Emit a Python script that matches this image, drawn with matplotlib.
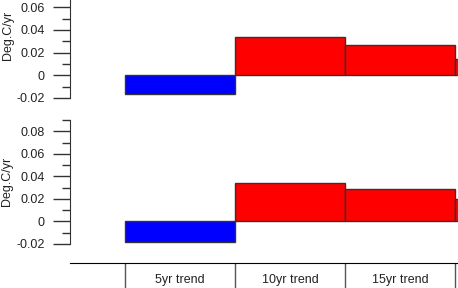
import numpy as np
import matplotlib
matplotlib.use("Agg")
import matplotlib.pyplot as plt
from matplotlib.ticker import MultipleLocator

plt.rcParams["font.family"] = ["Liberation Sans", "DejaVu Sans"]

# data
categories = ["5yr trend", "10yr trend", "15yr trend", ""]
trend_top = [-0.0165, 0.0337, 0.027, 0.0141]      # upper panel, deg C / yr
trend_bottom = [-0.0183, 0.0342, 0.0289, 0.0201]  # lower panel, deg C / yr
ylim_top = (-0.02, 0.0663)
ylim_bottom = (-0.02, 0.09)

W, H = 458, 288
DPI = 100
TXT = "#222222"


def px_axes(fig, x0, y0, x1, y1):
    """Axes placed by pixel box (top-left origin)."""
    return fig.add_axes([x0 / W, 1 - y1 / H, (x1 - x0) / W, (y1 - y0) / H])


def bar_panel(ax, vals, ylim):
    x = np.arange(len(vals))
    cols = ["#0000ff" if v < 0 else "#ff0000" for v in vals]
    ax.bar(x, vals, width=1.0, color=cols, edgecolor="#333333", linewidth=1.0)
    ax.set_xlim(-1.0, -1.0 + 388 / 110)
    ax.set_ylim(*ylim)
    for s in ("top", "right", "bottom"):
        ax.spines[s].set_visible(False)
    ax.spines["left"].set_color("#333333")
    ax.set_xticks([])
    ax.yaxis.set_major_locator(MultipleLocator(0.02))
    ax.yaxis.set_minor_locator(MultipleLocator(0.01))
    ax.set_yticks([t for t in np.arange(-0.02, ylim[1] + 1e-9, 0.02)])
    ax.set_yticklabels(["0" if abs(t) < 1e-9 else f"{t:.2f}" for t in ax.get_yticks()])
    ax.tick_params(axis="y", which="major", length=12, width=1, pad=6,
                   labelsize=9, colors="#333333", labelcolor=TXT)
    ax.tick_params(axis="y", which="minor", length=6, width=1, colors="#333333")
    ax.patch.set_alpha(0)


fig = plt.figure(figsize=(W / DPI, H / DPI), dpi=DPI)
fig.patch.set_facecolor("white")

ax1 = px_axes(fig, 70, 0, 458, 98)
bar_panel(ax1, trend_top, ylim_top)
ax2 = px_axes(fig, 70, 120, 458, 244)
bar_panel(ax2, trend_bottom, ylim_bottom)

fig.text(8 / W, 1 - 35 / H, "Deg.C/yr", rotation=90, ha="center", va="center",
         fontsize=9, color=TXT)
fig.text(7 / W, 1 - 181 / H, "Deg.C/yr", rotation=90, ha="center", va="center",
         fontsize=9, color=TXT)

# category strip under the panels
ax3 = px_axes(fig, 70, 263, 458, 288)
ax3.set_xlim(-1.0, -1.0 + 388 / 110)
ax3.set_ylim(0, 1)
for s in ("left", "right", "bottom"):
    ax3.spines[s].set_visible(False)
ax3.spines["top"].set_color("black")
ax3.set_xticks([]); ax3.set_yticks([])
ax3.vlines(np.arange(len(categories)) - 0.5, 0, 1, color="#555555", lw=1)
for i, c in enumerate(categories):
    if c:
        ax3.text(i, 0.3, c, ha="center", va="center", fontsize=9, color=TXT)
ax3.patch.set_alpha(0)

fig.savefig("out.png", dpi=DPI)
